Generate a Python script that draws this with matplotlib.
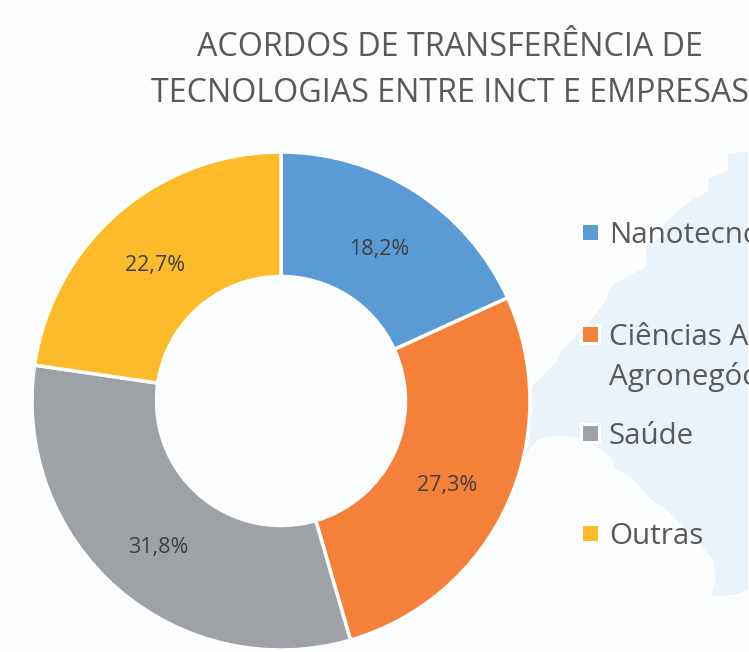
import matplotlib
matplotlib.use('Agg')
import matplotlib.pyplot as plt
from matplotlib.patches import Polygon, Rectangle

plt.rcParams['font.family'] = ['Open Sans', 'DejaVu Sans']

W, H = 749, 652

title_lines = ['ACORDOS DE TRANSFERÊNCIA DE', 'TECNOLOGIAS ENTRE INCT E EMPRESAS']
categories = ['Nanotecnologia', 'Ciências Agrárias e\nAgronegócio', 'Saúde', 'Outras']
values = [18.2, 27.3, 31.8, 22.7]
labels = ['18,2%', '27,3%', '31,8%', '22,7%']
colors = ['#5B9BD5', '#F4803A', '#9EA1A5', '#FDBB2A']
# background map silhouette, in pixels
map_x = [749, 727, 727, 707, 707, 690, 665, 660, 645, 646, 610, 605, 590, 560, 558, 532,
         520, 520, 530, 540, 560, 585, 610, 615, 630, 650, 665, 680, 690, 712, 715, 710, 735, 749]
map_y = [150, 153, 170, 178, 190, 200, 220, 235, 250, 265, 285, 300, 320, 350, 358, 385,
         395, 470, 450, 440, 437, 440, 458, 470, 478, 500, 510, 525, 535, 560, 578, 598, 596, 590]
legend_y = [232, 334, 433, 533]
label_pos = [(379, 250), (447, 485), (158, 548), (155, 265)]

fig = plt.figure(figsize=(W / 100, H / 100), dpi=100, facecolor='#FCFDFE')
bg = fig.add_axes([0, 0, 1, 1])
bg.set_xlim(0, W)
bg.set_ylim(H, 0)
bg.axis('off')
bg.add_patch(Polygon(list(zip(map_x, map_y)), closed=True, facecolor='#EAF3FA', edgecolor='white', lw=1.5))

# pie centre 281,401 radius 249
ax = fig.add_axes([(281 - 249) / W, 1 - (401 + 249) / H, 498 / W, 498 / H])
wedges, _ = ax.pie(values, colors=colors, startangle=90, counterclock=False, radius=1,
                   wedgeprops=dict(width=0.5, edgecolor='white', linewidth=2.5))
ax.set_xlim(-1, 1)
ax.set_ylim(-1, 1)
ax.set_aspect('equal')
ax.axis('off')

# overlay so the labels sit above the pie
top = fig.add_axes([0, 0, 1, 1])
top.set_xlim(0, W)
top.set_ylim(H, 0)
top.axis('off')
top.patch.set_alpha(0)

for (x, y), t in zip(label_pos, labels):
    top.text(x, y, t, ha='center', va='center', fontsize=15.5, color='#404040')

top.text(450, 48, title_lines[0], ha='center', va='center', fontsize=23.2, color='#595959')
top.text(450, 93, title_lines[1], ha='center', va='center', fontsize=23.2, color='#595959', clip_on=True)

for y, c, t in zip(legend_y, colors, categories):
    top.add_patch(Rectangle((580, y - 10), 21, 21, color='white', lw=0))
    top.add_patch(Rectangle((583, y - 7), 15, 15, color=c, lw=0))
    first = t.split('\n')
    top.text(609, y + 3, first[0], ha='left', va='center', fontsize=21.3, color='#595959', clip_on=True)
    if len(first) > 1:
        top.text(609, y + 43, first[1], ha='left', va='center', fontsize=21.3, color='#595959', clip_on=True)

fig.savefig('out.png', dpi=100, facecolor=fig.get_facecolor())
